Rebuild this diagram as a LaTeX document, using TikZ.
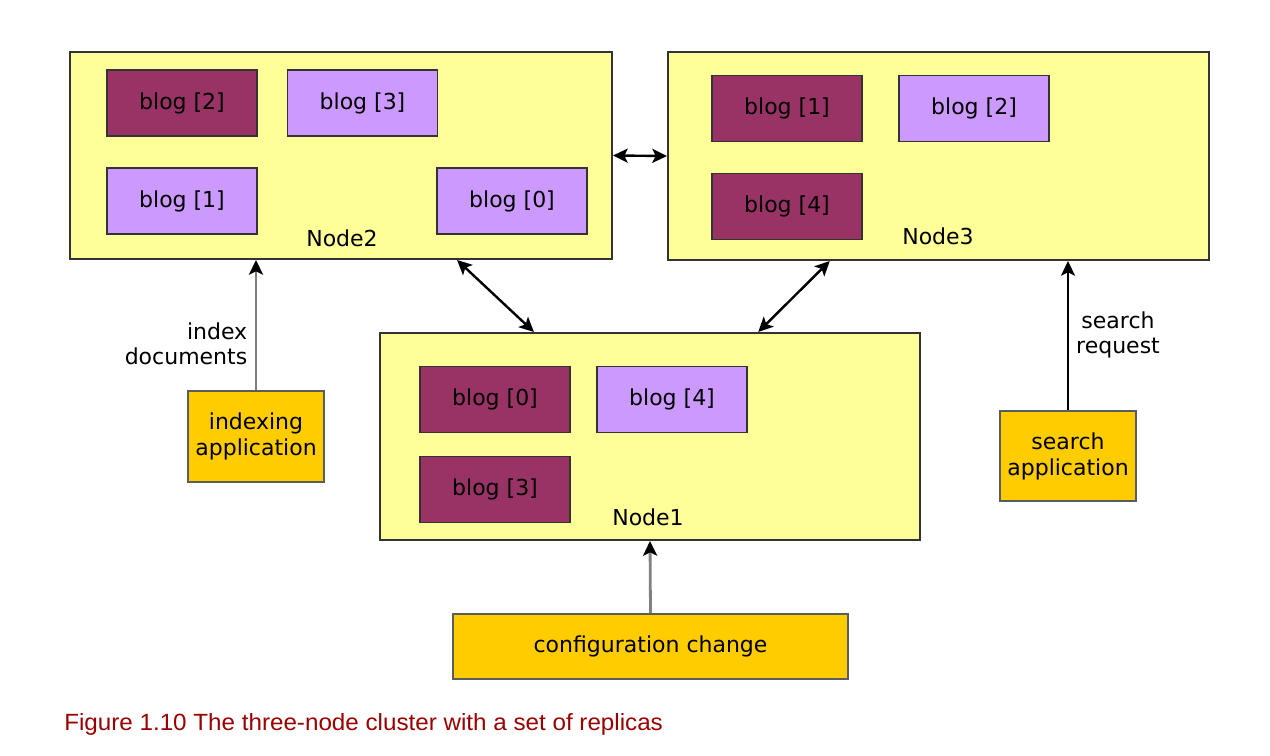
\documentclass[tikz,border=0pt]{standalone}
\usepackage{fontspec}
\setmainfont{DejaVu Sans}
\newfontfamily\capfont{Liberation Sans}
\usetikzlibrary{arrows.meta,calc}
\definecolor{nodey}{HTML}{FFFF99}
\definecolor{prim}{HTML}{993366}
\definecolor{repl}{HTML}{CC99FF}
\definecolor{appc}{HTML}{FFCC00}
\definecolor{edgec}{HTML}{333333}
\definecolor{capc}{HTML}{990000}
\definecolor{grayline}{HTML}{808080}
\tikzset{
  txt/.style={font=\fontsize{16.5}{18}\selectfont, text=black},
  cnode/.style={draw=edgec, fill=nodey, line width=1.5pt, minimum width=#1*0.75pt, minimum height=207*0.75pt, inner sep=0pt},
  blogbox/.style={draw=edgec, line width=1.3pt, minimum width=150*0.75pt, minimum height=66*0.75pt, inner sep=0pt, txt},
  primbox/.style={blogbox, fill=prim},
  replbox/.style={blogbox, fill=repl},
  appbox/.style={draw=edgec!80, fill=appc, line width=1.5pt, inner sep=0pt, txt, align=center},
  link/.style={draw=black, line width=1.8pt, {Stealth[length=11pt,width=10.5pt,inset=2.5pt]}-{Stealth[length=11pt,width=10.5pt,inset=2.5pt]}},
  feed/.style={line width=2.1pt, -{Stealth[length=11pt,width=10.5pt,inset=2.5pt,color=black]}},
}
\begin{document}
\begin{tikzpicture}[x=0.75pt,y=-0.75pt]
\useasboundingbox (0,0) rectangle (1270,756);
\fill[white] (0,0) rectangle (1270,756);
% cluster nodes
\node[cnode=542] (n2) at (341,155.5) {};
\node[cnode=541, minimum height=208*0.75pt] (n3) at (938.5,156) {};
\node[cnode=540] (n1) at (650,436.5) {};
% Node2 contents
\node[primbox] (n2b2) at (182,103) {blog [2]};
\node[replbox] (n2b3) at (362.5,103) {blog [3]};
\node[replbox] (n2b1) at (182,201) {blog [1]};
\node[replbox] (n2b0) at (512,201) {blog [0]};
\node[txt] (n2l) at (342,238) {Node2};
% Node3 contents
\node[primbox] (n3b1) at (787,108.5) {blog [1]};
\node[replbox] (n3b2) at (974,108.5) {blog [2]};
\node[primbox] (n3b4) at (787,206.5) {blog [4]};
\node[txt] (n3l) at (938,236) {Node3};
% Node1 contents
\node[primbox] (n1b0) at (495,399.5) {blog [0]};
\node[replbox] (n1b4) at (672,399.5) {blog [4]};
\node[primbox] (n1b3) at (495,489.5) {blog [3]};
\node[txt] (n1l) at (648,517) {Node1};
% applications
\node[appbox, minimum width=136*0.75pt, minimum height=91*0.75pt] (ia) at (256,436.5) {indexing\\[1.5pt]application};
\node[appbox, minimum width=136*0.75pt, minimum height=90*0.75pt] (sa) at (1068,456) {search\\[1.5pt]application};
\node[appbox, minimum width=395*0.75pt, minimum height=65*0.75pt] (cc) at (650.5,646.5) {configuration change};
% labels
\node[txt, align=right] (il) at (186,344) {index\\[1pt]documents};
\node[txt, align=center] (sl) at (1118,335) {search\\[1pt]request};
% connectors
\draw[link] (n2.-42) -- (n1.138);
\draw[link] (n3.-136) -- (n1.44);
\draw[link] (n2.east) -- (n3.west);
\draw[feed, draw=grayline] (ia.north) -- (ia.north |- n2.south);
\draw[feed, draw=black, line width=1.6pt] (sa.north) -- (sa.north |- n3.south);
\draw[feed, draw=grayline] (cc.north) -- (n1.south);
% caption
\node[anchor=base west, inner sep=0pt, text=capc] (cap) at (64,730) {\resizebox{449pt}{12.75pt}{\capfont Figure 1.10 The three-node cluster with a set of replicas}};
\end{tikzpicture}
\end{document}
